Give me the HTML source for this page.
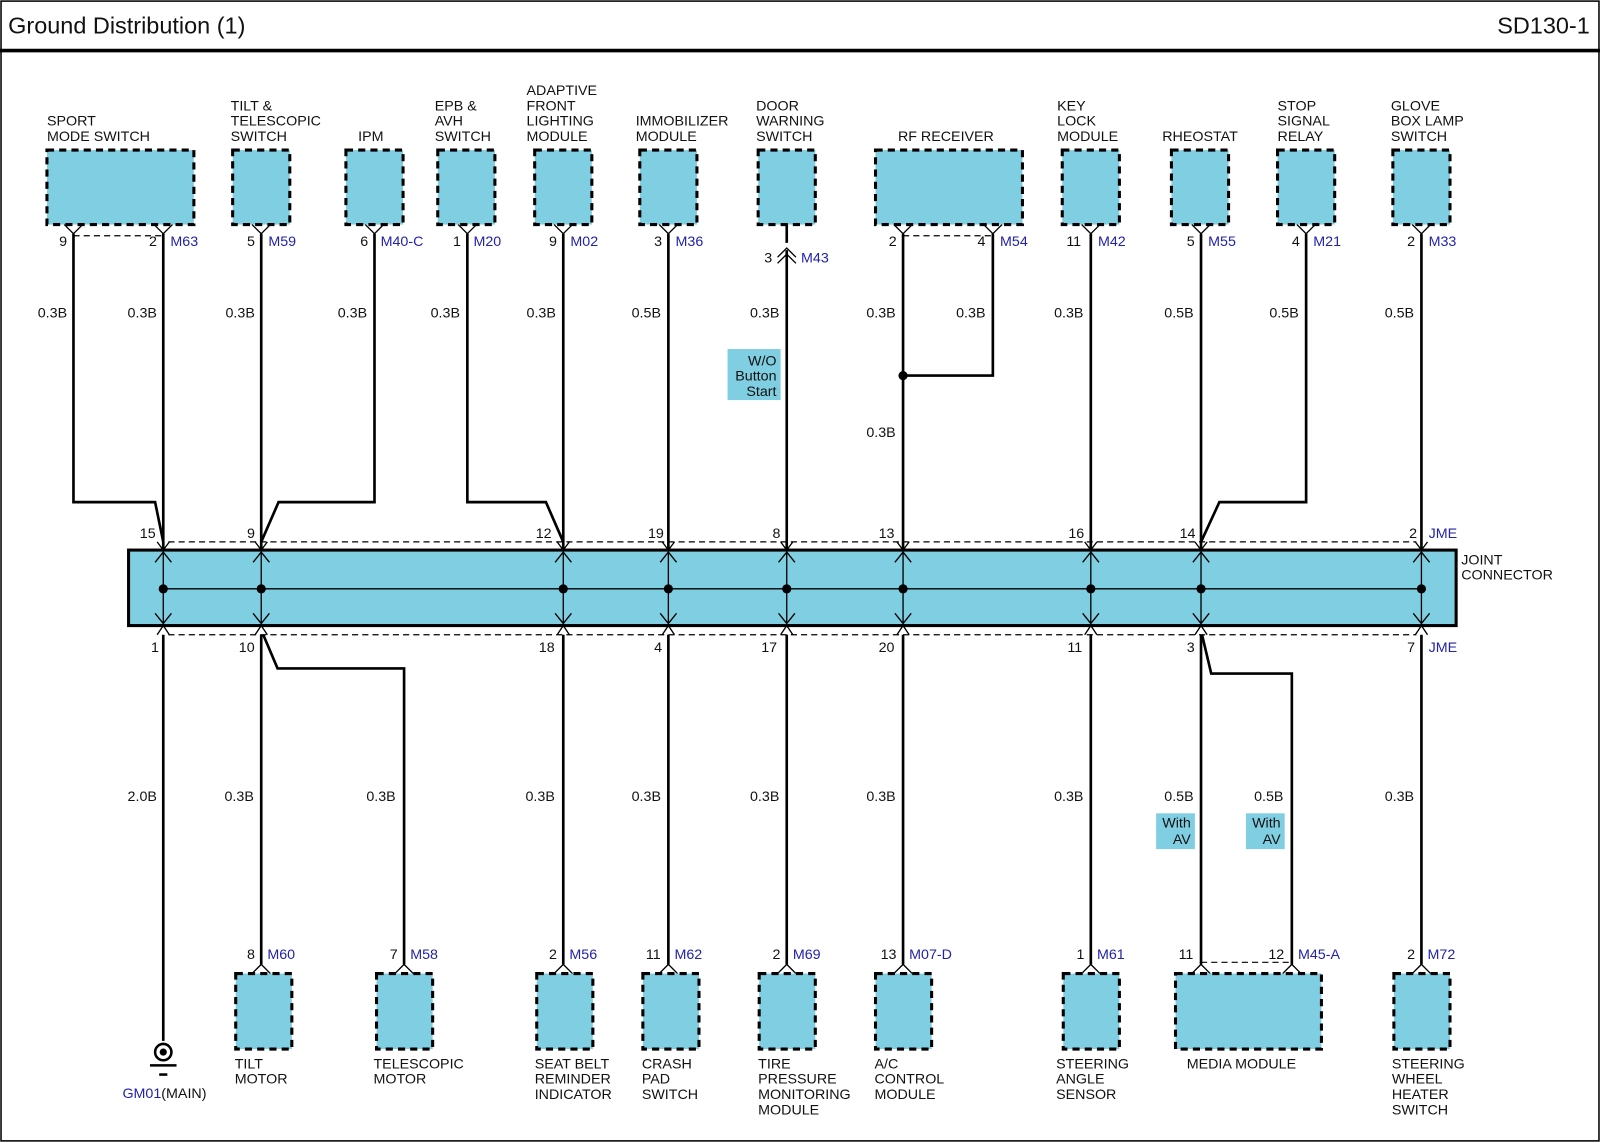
<!DOCTYPE html>
<html><head><meta charset="utf-8"><style>
html,body{margin:0;padding:0;background:#fff}
svg{display:block}
text{font-family:"Liberation Sans",Arial,sans-serif;font-size:14px;fill:#111}
.b{fill:#2222aa}
.w{stroke:#000;stroke-width:2.6;fill:none}
.t{stroke:#000;stroke-width:1.3;fill:none}
.d{stroke:#000;stroke-width:1.2;stroke-dasharray:6,4;fill:none}
.bx{fill:#80cee1;stroke:#000;stroke-width:3;stroke-dasharray:7,5}
.lb{fill:#80cee1}
</style></head><body>
<svg width="1600" height="1143" viewBox="0 0 1568 1120" xmlns="http://www.w3.org/2000/svg">
<rect x="1" y="1" width="1566" height="1117" fill="#fff" stroke="#000" stroke-width="1.5"/>
<line x1="0" y1="49.5" x2="1568" y2="49.5" stroke="#000" stroke-width="3.5"/>
<text x="8" y="33" style="font-size:23px">Ground Distribution (1)</text>
<text x="1558" y="33" text-anchor="end" style="font-size:23px">SD130-1</text>

<rect class="bx" x="46" y="147" width="144" height="73"/>
<rect class="bx" x="228" y="147" width="56" height="73"/>
<rect class="bx" x="339" y="147" width="56" height="73"/>
<rect class="bx" x="429" y="147" width="56" height="73"/>
<rect class="bx" x="524" y="147" width="56" height="73"/>
<rect class="bx" x="627" y="147" width="56" height="73"/>
<rect class="bx" x="743" y="147" width="56" height="73"/>
<rect class="bx" x="858" y="147" width="144" height="73"/>
<rect class="bx" x="1041" y="147" width="56" height="73"/>
<rect class="bx" x="1148" y="147" width="56" height="73"/>
<rect class="bx" x="1252" y="147" width="56" height="73"/>
<rect class="bx" x="1365" y="147" width="56" height="73"/>

<text x="46" y="123">SPORT</text><text x="46" y="138">MODE SWITCH</text>
<text x="226" y="108">TILT &amp;</text><text x="226" y="123">TELESCOPIC</text><text x="226" y="138">SWITCH</text>
<text x="351" y="138">IPM</text>
<text x="426" y="108">EPB &amp;</text><text x="426" y="123">AVH</text><text x="426" y="138">SWITCH</text>
<text x="516" y="93">ADAPTIVE</text><text x="516" y="108">FRONT</text><text x="516" y="123">LIGHTING</text><text x="516" y="138">MODULE</text>
<text x="623" y="123">IMMOBILIZER</text><text x="623" y="138">MODULE</text>
<text x="741" y="108">DOOR</text><text x="741" y="123">WARNING</text><text x="741" y="138">SWITCH</text>
<text x="880" y="138">RF RECEIVER</text>
<text x="1036" y="108">KEY</text><text x="1036" y="123">LOCK</text><text x="1036" y="138">MODULE</text>
<text x="1139" y="138">RHEOSTAT</text>
<text x="1252" y="108">STOP</text><text x="1252" y="123">SIGNAL</text><text x="1252" y="138">RELAY</text>
<text x="1363" y="108">GLOVE</text><text x="1363" y="123">BOX LAMP</text><text x="1363" y="138">SWITCH</text>

<g class="t">
<path d="M63,220 L72,229 L81,220 M151,220 L160,229 L169,220"/>
<path d="M247,220 L256,229 L265,220"/>
<path d="M358,220 L367,229 L376,220"/>
<path d="M449,220 L458,229 L467,220"/>
<path d="M543,220 L552,229 L561,220"/>
<path d="M646,220 L655,229 L664,220"/>
<path d="M762,252 L771,243 L780,252 M762,258 L771,249 L780,258"/>
<path d="M876,220 L885,229 L894,220 M964,220 L973,229 L982,220"/>
<path d="M1060,220 L1069,229 L1078,220"/>
<path d="M1168,220 L1177,229 L1186,220"/>
<path d="M1271,220 L1280,229 L1289,220"/>
<path d="M1384,220 L1393,229 L1402,220"/>
</g>
<line class="d" x1="72" y1="231" x2="160" y2="231"/>
<line class="d" x1="885" y1="231" x2="973" y2="231"/>

<text x="58" y="241">9</text><text x="146" y="241">2</text><text class="b" x="167" y="241">M63</text>
<text x="242" y="241">5</text><text class="b" x="263" y="241">M59</text>
<text x="353" y="241">6</text><text class="b" x="373" y="241">M40-C</text>
<text x="444" y="241">1</text><text class="b" x="464" y="241">M20</text>
<text x="538" y="241">9</text><text class="b" x="559" y="241">M02</text>
<text x="641" y="241">3</text><text class="b" x="662" y="241">M36</text>
<text x="749" y="257">3</text><text class="b" x="785" y="257">M43</text>
<text x="871" y="241">2</text><text x="958" y="241">4</text><text class="b" x="980" y="241">M54</text>
<text x="1045" y="241">11</text><text class="b" x="1076" y="241">M42</text>
<text x="1163" y="241">5</text><text class="b" x="1184" y="241">M55</text>
<text x="1266" y="241">4</text><text class="b" x="1287" y="241">M21</text>
<text x="1379" y="241">2</text><text class="b" x="1400" y="241">M33</text>

<g class="w">
<path d="M72,229 V492 H152 L160,531"/>
<path d="M160,229 V538"/>
<path d="M256,229 V538"/>
<path d="M367,229 V492 H273 L256,531"/>
<path d="M458,229 V492 H535 L552,531"/>
<path d="M552,229 V538"/>
<path d="M655,229 V538"/>
<path d="M771,220 V238 M771,245 V538"/>
<path d="M885,229 V538"/>
<path d="M973,229 V368 H885"/>
<path d="M1069,229 V538"/>
<path d="M1177,229 V538"/>
<path d="M1280,229 V492 H1195 L1177,531"/>
<path d="M1393,229 V538"/>
</g>
<circle cx="885" cy="368" r="4.5"/>

<text x="37" y="311">0.3B</text><text x="125" y="311">0.3B</text>
<text x="221" y="311">0.3B</text><text x="331" y="311">0.3B</text>
<text x="422" y="311">0.3B</text><text x="516" y="311">0.3B</text>
<text x="619" y="311">0.5B</text><text x="735" y="311">0.3B</text>
<text x="849" y="311">0.3B</text><text x="937" y="311">0.3B</text>
<text x="849" y="428">0.3B</text>
<text x="1033" y="311">0.3B</text><text x="1141" y="311">0.5B</text>
<text x="1244" y="311">0.5B</text><text x="1357" y="311">0.5B</text>
<rect class="lb" x="713" y="342" width="52" height="50"/>
<text x="761" y="358" text-anchor="end">W/O</text>
<text x="761" y="373" text-anchor="end">Button</text>
<text x="761" y="388" text-anchor="end">Start</text>

<text x="137" y="527">15</text><text x="242" y="527">9</text><text x="525" y="527">12</text>
<text x="635" y="527">19</text><text x="757" y="527">8</text><text x="861" y="527">13</text>
<text x="1047" y="527">16</text><text x="1156" y="527">14</text><text x="1381" y="527">2</text>
<text class="b" x="1400" y="527">JME</text>
<line class="d" x1="165" y1="531" x2="1388" y2="531"/>
<line class="d" x1="165" y1="622" x2="1388" y2="622"/>
<rect x="126" y="539" width="1301" height="74" fill="#80cee1" stroke="#000" stroke-width="3"/>
<text x="1432" y="553">JOINT</text><text x="1432" y="568">CONNECTOR</text>
<line x1="160" y1="577" x2="1393" y2="577" stroke="#000" stroke-width="1.3"/>
<g class="t">
<path d="M160,539 V613 M152,551 L160,541 L168,551 M152,601 L160,611 L168,601 M154,531 L160,539 L166,531 M154,622 L160,613 L166,622"/>
<path d="M256,539 V613 M248,551 L256,541 L264,551 M248,601 L256,611 L264,601 M250,531 L256,539 L262,531 M250,622 L256,613 L262,622"/>
<path d="M552,539 V613 M544,551 L552,541 L560,551 M544,601 L552,611 L560,601 M546,531 L552,539 L558,531 M546,622 L552,613 L558,622"/>
<path d="M655,539 V613 M647,551 L655,541 L663,551 M647,601 L655,611 L663,601 M649,531 L655,539 L661,531 M649,622 L655,613 L661,622"/>
<path d="M771,539 V613 M763,551 L771,541 L779,551 M763,601 L771,611 L779,601 M765,531 L771,539 L777,531 M765,622 L771,613 L777,622"/>
<path d="M885,539 V613 M877,551 L885,541 L893,551 M877,601 L885,611 L893,601 M879,531 L885,539 L891,531 M879,622 L885,613 L891,622"/>
<path d="M1069,539 V613 M1061,551 L1069,541 L1077,551 M1061,601 L1069,611 L1077,601 M1063,531 L1069,539 L1075,531 M1063,622 L1069,613 L1075,622"/>
<path d="M1177,539 V613 M1169,551 L1177,541 L1185,551 M1169,601 L1177,611 L1185,601 M1171,531 L1177,539 L1183,531 M1171,622 L1177,613 L1183,622"/>
<path d="M1393,539 V613 M1385,551 L1393,541 L1401,551 M1385,601 L1393,611 L1401,601 M1387,531 L1393,539 L1399,531 M1387,622 L1393,613 L1399,622"/>
</g>
<g>
<circle cx="160" cy="577" r="4.5"/><circle cx="256" cy="577" r="4.5"/><circle cx="552" cy="577" r="4.5"/>
<circle cx="655" cy="577" r="4.5"/><circle cx="771" cy="577" r="4.5"/><circle cx="885" cy="577" r="4.5"/>
<circle cx="1069" cy="577" r="4.5"/><circle cx="1177" cy="577" r="4.5"/><circle cx="1393" cy="577" r="4.5"/>
</g>
<text x="148" y="639">1</text><text x="234" y="639">10</text><text x="528" y="639">18</text>
<text x="641" y="639">4</text><text x="746" y="639">17</text><text x="861" y="639">20</text>
<text x="1046" y="639">11</text><text x="1163" y="639">3</text><text x="1379" y="639">7</text>
<text class="b" x="1400" y="639">JME</text>

<g class="w">
<path d="M160,622 V1020"/>
<path d="M256,622 V945"/>
<path d="M258,622 L272,655 H396 V945"/>
<path d="M552,622 V945"/>
<path d="M655,622 V945"/>
<path d="M771,622 V945"/>
<path d="M885,622 V945"/>
<path d="M1069,622 V945"/>
<path d="M1177,622 V945"/>
<path d="M1178,622 L1187,660 H1266 V945"/>
<path d="M1393,622 V945"/>
</g>
<text x="125" y="785">2.0B</text><text x="220" y="785">0.3B</text><text x="359" y="785">0.3B</text>
<text x="515" y="785">0.3B</text><text x="619" y="785">0.3B</text><text x="735" y="785">0.3B</text>
<text x="849" y="785">0.3B</text><text x="1033" y="785">0.3B</text><text x="1141" y="785">0.5B</text>
<text x="1229" y="785">0.5B</text><text x="1357" y="785">0.3B</text>
<rect class="lb" x="1133" y="797" width="38" height="35"/>
<text x="1167" y="811" text-anchor="end">With</text><text x="1167" y="827" text-anchor="end">AV</text>
<rect class="lb" x="1221" y="797" width="38" height="35"/>
<text x="1255" y="811" text-anchor="end">With</text><text x="1255" y="827" text-anchor="end">AV</text>

<g class="t">
<path d="M247,954 L256,945 L265,954"/>
<path d="M387,954 L396,945 L405,954"/>
<path d="M543,954 L552,945 L561,954"/>
<path d="M646,954 L655,945 L664,954"/>
<path d="M762,954 L771,945 L780,954"/>
<path d="M876,954 L885,945 L894,954"/>
<path d="M1060,954 L1069,945 L1078,954"/>
<path d="M1168,954 L1177,945 L1186,954 M1257,954 L1266,945 L1275,954"/>
<path d="M1384,954 L1393,945 L1402,954"/>
</g>
<line class="d" x1="1177" y1="943" x2="1266" y2="943"/>
<text x="242" y="940">8</text><text class="b" x="262" y="940">M60</text>
<text x="382" y="940">7</text><text class="b" x="402" y="940">M58</text>
<text x="538" y="940">2</text><text class="b" x="558" y="940">M56</text>
<text x="633" y="940">11</text><text class="b" x="661" y="940">M62</text>
<text x="757" y="940">2</text><text class="b" x="777" y="940">M69</text>
<text x="863" y="940">13</text><text class="b" x="891" y="940">M07-D</text>
<text x="1055" y="940">1</text><text class="b" x="1075" y="940">M61</text>
<text x="1155" y="940">11</text><text x="1243" y="940">12</text><text class="b" x="1272" y="940">M45-A</text>
<text x="1379" y="940">2</text><text class="b" x="1399" y="940">M72</text>

<rect class="bx" x="231" y="954" width="55" height="74"/>
<rect class="bx" x="369" y="954" width="55" height="74"/>
<rect class="bx" x="526" y="954" width="55" height="74"/>
<rect class="bx" x="630" y="954" width="55" height="74"/>
<rect class="bx" x="744" y="954" width="55" height="74"/>
<rect class="bx" x="858" y="954" width="55" height="74"/>
<rect class="bx" x="1042" y="954" width="55" height="74"/>
<rect class="bx" x="1152" y="954" width="143" height="74"/>
<rect class="bx" x="1366" y="954" width="55" height="74"/>

<circle cx="160" cy="1031" r="8" fill="#fff" stroke="#000" stroke-width="2.5"/>
<circle cx="160" cy="1031" r="3.5"/>
<line x1="147" y1="1044" x2="173" y2="1044" stroke="#000" stroke-width="2.5"/>
<line x1="156" y1="1053" x2="164" y2="1053" stroke="#000" stroke-width="2.5"/>
<text x="120" y="1076"><tspan class="b">GM01</tspan>(MAIN)</text>

<text x="230" y="1047">TILT</text><text x="230" y="1062">MOTOR</text>
<text x="366" y="1047">TELESCOPIC</text><text x="366" y="1062">MOTOR</text>
<text x="524" y="1047">SEAT BELT</text><text x="524" y="1062">REMINDER</text><text x="524" y="1077">INDICATOR</text>
<text x="629" y="1047">CRASH</text><text x="629" y="1062">PAD</text><text x="629" y="1077">SWITCH</text>
<text x="743" y="1047">TIRE</text><text x="743" y="1062">PRESSURE</text><text x="743" y="1077">MONITORING</text><text x="743" y="1092">MODULE</text>
<text x="857" y="1047">A/C</text><text x="857" y="1062">CONTROL</text><text x="857" y="1077">MODULE</text>
<text x="1035" y="1047">STEERING</text><text x="1035" y="1062">ANGLE</text><text x="1035" y="1077">SENSOR</text>
<text x="1163" y="1047">MEDIA MODULE</text>
<text x="1364" y="1047">STEERING</text><text x="1364" y="1062">WHEEL</text><text x="1364" y="1077">HEATER</text><text x="1364" y="1092">SWITCH</text>
</svg>
</body></html>
